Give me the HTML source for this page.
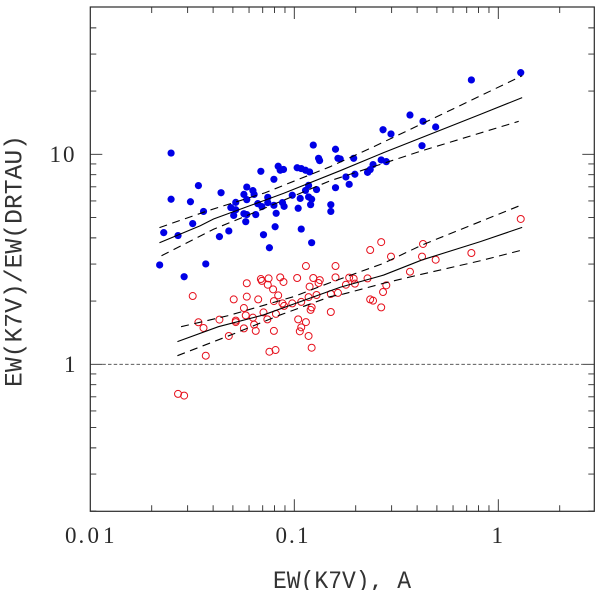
<!DOCTYPE html>
<html>
<head>
<meta charset="utf-8">
<style>
html,body{margin:0;padding:0;background:#fff;}
svg{display:block;}
text{font-family:"Liberation Mono","DejaVu Sans Mono",monospace;fill:#333;}
text.tick{font-family:"Liberation Serif","DejaVu Serif",serif;fill:#2a2a2a;}
</style>
</head>
<body>
<svg id="chart" width="600" height="590" viewBox="0 0 600 590" xmlns="http://www.w3.org/2000/svg">
<rect x="0" y="0" width="600" height="590" fill="#ffffff"/>
<text x="273" y="588" font-size="25" textLength="138" lengthAdjust="spacingAndGlyphs">EW(K7V), A</text>
<text transform="translate(21.5,387) rotate(-90)" x="0" y="0" font-size="25" textLength="252" lengthAdjust="spacingAndGlyphs">EW(K7V)/EW(DRTAU)</text>
<text class="tick" x="65 78.5 87.5 103" y="543" font-size="23">0.01</text>
<text class="tick" x="275.5 289 297" y="543" font-size="23">0.1</text>
<text class="tick" x="491.5" y="543" font-size="23">1</text>
<text class="tick" x="49.5 63" y="162" font-size="23">10</text>
<text class="tick" x="64" y="372" font-size="23">1</text>
</svg>
<script>
// All series values are log10 of the plotted quantity.
var blueLogEW = [-1.604,-1.640,-1.604,-1.570,-1.509,-1.498,-1.470,-1.445,-1.367,-1.359,-1.321,-1.311,-1.297,-1.287,-1.287,-1.247,-1.247,-1.238,-1.233,-1.233,-1.233,-1.203,-1.197,-1.189,-1.179,-1.159,-1.164,-1.151,-1.130,-1.130,-1.122,-1.100,-1.100,-1.094,-1.089,-1.079,-1.069,-1.053,-1.058,-1.050,-1.010,-0.986,-0.981,-0.971,-0.966,-0.966,-0.945,-0.945,-0.930,-0.930,-0.925,-0.915,-0.920,-0.915,-0.907,-0.891,-0.881,-0.876,-0.821,-0.821,-0.798,-0.798,-0.786,-0.775,-0.747,-0.731,-0.709,-0.703,-0.641,-0.628,-0.614,-0.574,-0.565,-0.549,-0.526,-0.433,-0.369,-0.374,-0.307,-0.132,0.110,-1.660,-1.434,-1.540];
var blueLogRatio = [1.006,0.627,0.786,0.613,0.774,0.670,0.851,0.728,0.608,0.817,0.635,0.746,0.709,0.771,0.736,0.809,0.717,0.679,0.844,0.784,0.713,0.827,0.809,0.713,0.765,0.751,0.919,0.617,0.795,0.770,0.555,0.881,0.757,0.655,0.719,0.943,0.924,0.928,0.770,0.752,0.805,0.936,0.743,0.790,0.932,0.644,0.924,0.828,0.797,0.852,0.916,0.786,0.760,0.579,1.044,0.832,0.981,0.970,0.760,0.728,0.841,1.024,0.981,0.978,0.892,0.857,0.981,0.905,0.914,0.927,0.951,0.973,1.117,0.965,1.097,1.187,1.157,1.041,1.130,1.354,1.389,0.473,0.478,0.417];
var redLogEW = [-1.570,-1.540,-1.498,-1.470,-1.445,-1.434,-1.367,-1.321,-1.297,-1.287,-1.287,-1.247,-1.247,-1.238,-1.233,-1.233,-1.203,-1.197,-1.189,-1.177,-1.164,-1.159,-1.151,-1.132,-1.130,-1.126,-1.122,-1.104,-1.100,-1.100,-1.092,-1.090,-1.079,-1.069,-1.058,-1.053,-1.050,-1.010,-0.986,-0.981,-0.973,-0.966,-0.966,-0.943,-0.943,-0.930,-0.930,-0.925,-0.915,-0.920,-0.915,-0.907,-0.891,-0.881,-0.875,-0.821,-0.821,-0.798,-0.798,-0.786,-0.747,-0.731,-0.709,-0.703,-0.641,-0.628,-0.628,-0.614,-0.574,-0.574,-0.565,-0.549,-0.526,-0.433,-0.369,-0.374,-0.307,-0.132,0.110];
var redLogRatio = [-0.141,-0.149,0.325,0.200,0.173,0.041,0.213,0.135,0.309,0.208,0.201,0.268,0.171,0.233,0.386,0.322,0.222,0.189,0.159,0.309,0.406,0.397,0.247,0.214,0.379,0.409,0.060,0.357,0.301,0.159,0.068,0.240,0.328,0.414,0.290,0.392,0.278,0.290,0.411,0.214,0.157,0.176,0.297,0.468,0.201,0.135,0.320,0.370,0.271,0.259,0.079,0.411,0.330,0.387,0.401,0.335,0.249,0.468,0.414,0.340,0.379,0.413,0.408,0.384,0.409,0.544,0.309,0.303,0.582,0.271,0.344,0.376,0.513,0.441,0.573,0.513,0.498,0.530,0.692];

var blueFitLogEW = [-1.661,-1.461,-1.396,-1.053,-0.775,-0.562,-0.088,0.117];
var blueFitLogRatio = [0.579,0.660,0.692,0.814,0.922,1.008,1.190,1.270];
var blueUpperLogEW = [-1.661,-1.421,-1.143,-0.824,-0.611,-0.284,0.117];
var blueUpperLogRatio = [0.651,0.732,0.817,0.941,1.036,1.187,1.374];
var blueLowerLogEW = [-1.651,-1.396,-1.265,-0.824,-0.562,-0.374,0.100];
var blueLowerLogRatio = [0.517,0.643,0.695,0.874,0.957,1.017,1.157];

var redFitLogEW = [-1.573,-1.372,-1.151,-0.775,-0.562,-0.374,-0.088,0.117];
var redFitLogRatio = [0.108,0.179,0.235,0.367,0.425,0.497,0.584,0.652];
var redUpperLogEW = [-1.555,-1.323,-1.004,-0.824,-0.562,-0.374,0.117];
var redUpperLogRatio = [0.179,0.232,0.322,0.389,0.481,0.568,0.760];
var redLowerLogEW = [-1.573,-1.323,-1.069,-0.824,-0.758,-0.562,-0.415,-0.088,0.117];
var redLowerLogRatio = [0.041,0.135,0.235,0.322,0.335,0.386,0.420,0.493,0.544];

var xMajorTicks = [0.1, 1];
var xMinorTicks = [0.02,0.03,0.04,0.05,0.06,0.07,0.08,0.09,0.2,0.3,0.4,0.5,0.6,0.7,0.8,0.9,2];
var yMajorTicks = [1, 10];
var yMinorTicks = [0.2,0.3,0.4,0.5,0.6,0.7,0.8,0.9,2,3,4,5,6,7,8,9,20,30,40];
var referenceLevel = [1];

var xDomain = [0.01, 3];
var yDomain = [0.2, 50];
var svgNS = "http://www.w3.org/2000/svg";
var chart = document.getElementById("chart");
var plotLeft = 90.3, plotRight = 594.3, plotTop = 7, plotBottom = 511.3;
var xDecade = 204, yDecade = 210;

function xFromLog(l) { return plotLeft + (l - Math.log10(xDomain[0])) * xDecade; }
function yFromLog(l) { return 364.3 - l * yDecade; }
function xScale(v) { return xFromLog(Math.log10(v)); }
function yScale(v) { return yFromLog(Math.log10(v)); }

function make(tag, attrs) {
  var el = document.createElementNS(svgNS, tag);
  for (var k in attrs) { el.setAttribute(k, attrs[k]); }
  chart.appendChild(el);
  return el;
}

// plot frame
var frame = make("rect", {x: plotLeft, y: plotTop, width: plotRight - plotLeft, height: plotBottom - plotTop, fill: "none", stroke: "#2a2a2a", "stroke-width": 1.2});



function tickPath(values, length, horizontal) {
  var d = "";
  values.forEach(function (v) {
    if (horizontal) {
      var x = xScale(v);
      d += "M" + x + " " + plotBottom + "V" + (plotBottom - length);
      d += "M" + x + " " + plotTop + "V" + (plotTop + length);
    } else {
      var y = yScale(v);
      d += "M" + plotLeft + " " + y + "H" + (plotLeft + length);
      d += "M" + plotRight + " " + y + "H" + (plotRight - length);
    }
  });
  return d;
}

var xMinor = make("path", {d: tickPath(xMinorTicks, 6, true), stroke: "#2a2a2a", "stroke-width": 0.9, fill: "none"});


var xMajor = make("path", {d: tickPath(xMajorTicks, 12, true), stroke: "#2a2a2a", "stroke-width": 0.9, fill: "none"});


var yMinor = make("path", {d: tickPath(yMinorTicks, 6, false), stroke: "#2a2a2a", "stroke-width": 0.9, fill: "none"});


var yMajor = make("path", {d: tickPath(yMajorTicks, 12, false), stroke: "#2a2a2a", "stroke-width": 0.9, fill: "none"});



// reference line at ratio = 1
var refLine = make("line", {x1: plotLeft + 12, x2: plotRight - 12, y1: yScale(referenceLevel[0]), y2: yScale(referenceLevel[0]), stroke: "#444", "stroke-width": 0.9, "stroke-dasharray": "3.5 2.2"});



function linePoints(xs, ys) {
  return xs.map(function (l, i) { return xFromLog(l).toFixed(2) + "," + yFromLog(ys[i]).toFixed(2); }).join(" ");
}

function drawLine(xs, ys, dashed) {
  var attrs = {points: linePoints(xs, ys), fill: "none", stroke: "#000", "stroke-width": 1.1};
  if (dashed) { attrs["stroke-dasharray"] = "8 5.5"; }
  return make("polyline", attrs);
}

// blue filled points
blueLogEW.forEach(function (l, i) {
  var c = make("circle", {cx: xFromLog(l), cy: yFromLog(blueLogRatio[i]), r: 3.6, fill: "#0000e6"});
  
  
});

// red open points
redLogEW.forEach(function (l, i) {
  var c = make("circle", {cx: xFromLog(l), cy: yFromLog(redLogRatio[i]), r: 3.5, fill: "none", stroke: "#e6101c", "stroke-width": 1});
  
  
});

var blueFit = drawLine(blueFitLogEW, blueFitLogRatio, false);


var blueUpper = drawLine(blueUpperLogEW, blueUpperLogRatio, true);


var blueLower = drawLine(blueLowerLogEW, blueLowerLogRatio, true);


var redFit = drawLine(redFitLogEW, redFitLogRatio, false);


var redUpper = drawLine(redUpperLogEW, redUpperLogRatio, true);


var redLower = drawLine(redLowerLogEW, redLowerLogRatio, true);


</script>
</body>
</html>
